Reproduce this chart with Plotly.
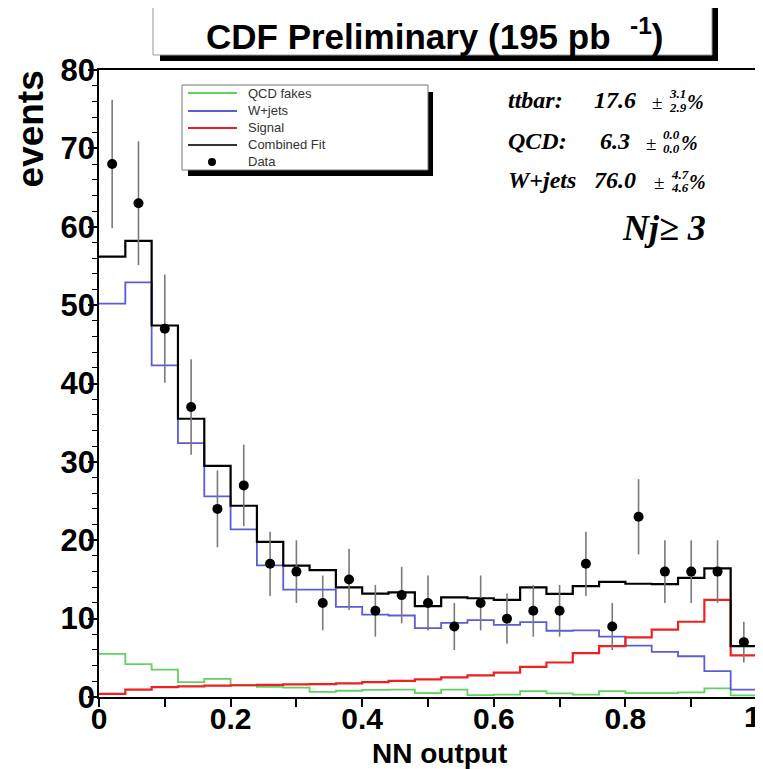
import numpy as np
import plotly.graph_objects as go

# ---------------- data ----------------
bin_edges = np.linspace(0.0, 1.0, 26)          # 25 bins of NN output
bin_centers = (bin_edges[:-1] + bin_edges[1:]) / 2

combined_fit = [56.2, 58.2, 47.4, 35.5, 29.5, 24.4, 19.8, 16.75, 16.2, 14.0, 13.2, 13.35, 11.6,
                12.7, 12.6, 12.4, 14.0, 13.15, 14.15, 14.7, 14.45, 14.4, 15.2, 16.4, 6.5]
wjets = [50.2, 52.9, 42.3, 32.4, 25.6, 21.4, 16.8, 13.7, 13.7, 11.5, 10.5, 10.4, 8.8,
         9.45, 9.8, 9.2, 9.55, 8.45, 8.5, 7.7, 6.55, 5.75, 5.2, 3.3, 0.95]
signal = [0.4, 0.95, 1.25, 1.35, 1.45, 1.5, 1.55, 1.6, 1.65, 1.75, 1.9, 2.05, 2.25,
          2.5, 2.75, 3.1, 3.85, 4.4, 5.6, 6.5, 7.6, 8.6, 9.6, 12.4, 5.3]
qcd = [5.5, 4.2, 3.5, 1.9, 2.3, 1.5, 1.3, 1.2, 0.65, 0.8, 0.9, 0.95, 0.5,
       0.95, 0.25, 0.3, 0.75, 0.45, 0.3, 0.75, 0.5, 0.5, 0.6, 1.1, 0.2]
data_counts = [68, 63, 47, 37, 24, 27, 17, 16, 12, 15, 11, 13, 12,
               9, 12, 10, 11, 11, 17, 9, 23, 16, 16, 16, 7]
data_err = [8.2, 7.9, 6.9, 6.1, 4.9, 5.2, 4.1, 4.0, 3.5, 3.9, 3.3, 3.6, 3.5,
            3.0, 3.5, 3.2, 3.3, 3.3, 4.1, 3.0, 4.8, 4.0, 4.0, 4.0, 2.6]

x_ticks = [0, 0.2, 0.4, 0.6, 0.8, 1]
x_ticklabels = ["0", "0.2", "0.4", "0.6", "0.8", ""]   # "1" drawn as a right-aligned label below
x_last_label = "1"
y_ticks = [0, 10, 20, 30, 40, 50, 60, 70, 80]

legend_labels = ["QCD fakes", "W+jets", "Signal", "Combined Fit", "Data"]
fit_rows = [("ttbar:", "17.6", "3.1", "2.9"),
            ("QCD:", "6.3", "0.0", "0.0"),
            ("W+jets", "76.0", "4.7", "4.6")]

# ---------------- colours ----------------
C_GREEN = "#62d062"
C_BLUE = "#5c5cd6"
C_RED = "#ee2020"
C_BLACK = "#000000"

# page is rendered with an 8px body margin, so the figure is offset by 8px
OFF = 8
W, H = 763 - OFF, 769 - OFF
PL, PR, PT, PB = 99, 757, 70, 697          # plot area in page pixels
L, R, T, B = PL - OFF, 763 - PR, PT - OFF, 769 - PB


def px(x):
    return (x - PL) / (PR - PL)


def py(y):
    return (PB - y) / (PB - PT)


def step_xy(vals):
    xs = list(bin_edges)
    ys = list(vals) + [vals[-1]]
    return xs, ys


fig = go.Figure()

for vals, col, wid in [(qcd, C_GREEN, 1.8), (wjets, C_BLUE, 1.8),
                       (signal, C_RED, 2.2), (combined_fit, C_BLACK, 2.2)]:
    xs, ys = step_xy(vals)
    fig.add_trace(go.Scatter(x=xs, y=ys, mode="lines", line=dict(color=col, width=wid, shape="hv"),
                             showlegend=False, hoverinfo="skip"))

fig.add_trace(go.Scatter(
    x=bin_centers, y=data_counts, mode="markers",
    marker=dict(color="black", size=10),
    error_y=dict(type="data", array=data_err, color="#7a7a7a", thickness=1.6, width=0),
    showlegend=False))

shapes = []
annotations = []

# ---- title box ----
shapes.append(dict(type="rect", xref="paper", yref="paper", x0=px(160), x1=px(718), y0=py(61), y1=py(8),
                   fillcolor="black", line=dict(width=0), layer="above"))
shapes.append(dict(type="rect", xref="paper", yref="paper", x0=px(153), x1=px(712), y0=py(55), y1=py(-5),
                   fillcolor="white", line=dict(color="#999999", width=1), layer="above"))
annotations.append(dict(xref="paper", yref="paper", x=px(434), y=py(34), xanchor="center", yanchor="middle",
                        text="CDF Preliminary (195 pb\u00a0\u00a0<sup>-1</sup>)", showarrow=False,
                        font=dict(family="Liberation Sans", size=35, color="black", weight="bold")))

# ---- legend box ----
shapes.append(dict(type="rect", xref="paper", yref="paper", x0=px(188), x1=px(433), y0=py(176), y1=py(92),
                   fillcolor="black", line=dict(width=0), layer="above"))
shapes.append(dict(type="rect", xref="paper", yref="paper", x0=px(182), x1=px(428), y0=py(170), y1=py(85),
                   fillcolor="white", line=dict(color="#777777", width=1), layer="above"))
leg_y = [93, 111, 128, 145, 162]
leg_cols = [C_GREEN, C_BLUE, C_RED, "#333333"]
for i, lab in enumerate(legend_labels):
    yy = leg_y[i]
    if i < 4:
        shapes.append(dict(type="line", xref="paper", yref="paper", x0=px(188), x1=px(237), y0=py(yy), y1=py(yy),
                           line=dict(color=leg_cols[i], width=2), layer="above"))
    else:
        shapes.append(dict(type="circle", xref="paper", yref="paper", x0=px(208), x1=px(216),
                           y0=py(yy + 4), y1=py(yy - 4), fillcolor="black", line=dict(width=0), layer="above"))
    annotations.append(dict(xref="paper", yref="paper", x=px(246), y=py(yy), xanchor="left", yanchor="middle",
                            text=lab, showarrow=False,
                            font=dict(family="Liberation Sans", size=13, color="#333333")))

# ---- fit results ----
serif = "Liberation Serif"
row_y = [100, 141, 180]
pm_x = [657, 651, 659]
for (name, val, up, dn), yy, pmx in zip(fit_rows, row_y, pm_x):
    f_main = dict(family=serif, size=24, color="black", weight="bold", style="italic")
    f_small = dict(family=serif, size=13, color="black", weight="bold", style="italic")
    annotations.append(dict(xref="paper", yref="paper", x=px(506), y=py(yy), xanchor="left", yanchor="middle",
                            text=name, showarrow=False, font=f_main))
    annotations.append(dict(xref="paper", yref="paper", x=px(615), y=py(yy), xanchor="center", yanchor="middle",
                            text=val, showarrow=False, font=f_main))
    annotations.append(dict(xref="paper", yref="paper", x=px(pmx), y=py(yy + 2), xanchor="center",
                            yanchor="middle", text="±", showarrow=False,
                            font=dict(family=serif, size=19, color="black")))
    annotations.append(dict(xref="paper", yref="paper", x=px(pmx + 10), y=py(yy - 6), xanchor="left",
                            yanchor="middle", text=up, showarrow=False, font=f_small))
    annotations.append(dict(xref="paper", yref="paper", x=px(pmx + 10), y=py(yy + 7), xanchor="left",
                            yanchor="middle", text=dn, showarrow=False, font=f_small))
    annotations.append(dict(xref="paper", yref="paper", x=px(pmx + 28), y=py(yy + 2), xanchor="left",
                            yanchor="middle", text="%", showarrow=False,
                            font=dict(family=serif, size=20, color="black", weight="bold", style="italic")))

annotations.append(dict(xref="paper", yref="paper", x=px(620), y=py(228), xanchor="left", yanchor="middle",
                        text="Nj≥ 3", showarrow=False,
                        font=dict(family=serif, size=36, color="black", weight="bold", style="italic")))

# ---- last x tick label, kept inside the page like the reference ----
annotations.append(dict(xref="x", yref="paper", x=1.0, y=py(716), xanchor="right", yanchor="middle",
                        xshift=6, text=x_last_label, showarrow=False,
                        font=dict(family="Liberation Sans", size=30, color="black", weight="bold")))

# ---- axis titles ----
annotations.append(dict(xref="paper", yref="paper", x=px(30), y=py(69), xanchor="center", yanchor="top",
                        text="events", textangle=-90, showarrow=False,
                        font=dict(family="Liberation Sans", size=37, color="black", weight="bold")))
annotations.append(dict(xref="paper", yref="paper", x=px(440), y=py(753), xanchor="center", yanchor="middle",
                        text="NN output", showarrow=False,
                        font=dict(family="Liberation Sans", size=28, color="black", weight="bold")))

fig.update_layout(
    width=W, height=H,
    margin=dict(l=L, r=R, t=T, b=B, autoexpand=False),
    paper_bgcolor="white", plot_bgcolor="white",
    shapes=shapes, annotations=annotations,
    showlegend=False,
    xaxis=dict(range=[0, 1], tickvals=x_ticks, ticktext=x_ticklabels, ticks="outside", ticklen=8,
               tickwidth=1.5, tickcolor="black", showline=True, linecolor="black", linewidth=1.5,
               mirror=True, showgrid=False, zeroline=False, ticklabeloverflow="allow",
               ticklabelstandoff=-14,
               minor=dict(dtick=0.1, ticks="outside", ticklen=8, tickcolor="black", tickwidth=1.5),
               tickfont=dict(family="Liberation Sans", size=30, color="black", weight="bold")),
    yaxis=dict(range=[0, 80], tickvals=y_ticks, ticks="outside", ticklen=9, tickwidth=1.5,
               tickcolor="black", showline=True, linecolor="black", linewidth=1.5, mirror=True,
               showgrid=False, zeroline=False, ticklabeloverflow="allow",
               ticklabelstandoff=-13,
               minor=dict(dtick=2, ticks="outside", ticklen=5, tickcolor="black", tickwidth=1),
               tickfont=dict(family="Liberation Sans", size=31, color="black", weight="bold")),
)

fig.write_html("out.html")
